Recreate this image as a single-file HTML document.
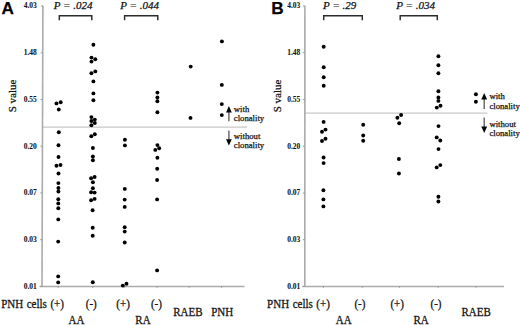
<!DOCTYPE html>
<html><head><meta charset="utf-8"><style>
html,body{margin:0;padding:0;background:#fff;}
body{width:520px;height:325px;overflow:hidden;}
svg{display:block;}
text{font-family:"Liberation Serif",serif;fill:#111;stroke:#111;stroke-width:0.25px;}
.tk{font-size:7.5px;font-weight:bold;text-anchor:end;stroke-width:0.05px;}
.sv{font-size:11px;text-anchor:middle;}
.pv{font-size:11px;font-style:italic;}
.lt{font-family:"Liberation Sans",sans-serif;font-weight:bold;font-size:17.2px;fill:#000;}
.cl{font-size:8.7px;}
.eq{fill:#666;stroke:#666;}
.bl{font-size:11px;word-spacing:0.8px;}
circle{fill:#000;}
</style></head><body>
<svg width="520" height="325" viewBox="0 0 520 325">
<line x1="42.9" y1="127.2" x2="247" y2="127.2" stroke="#c8c8c8" stroke-width="1.2"/>
<line x1="42.9" y1="5.7" x2="42.0" y2="286.5" stroke="#ababab" stroke-width="1.6"/>
<line x1="39.5" y1="286.5" x2="244.4" y2="286.5" stroke="#ababab" stroke-width="1.6"/>
<line x1="40.9" y1="6.00" x2="42.9" y2="6.00" stroke="#999" stroke-width="1"/>
<text x="36.8" y="8.40" class="tk">4.03</text>
<line x1="40.75" y1="52.73" x2="42.75" y2="52.73" stroke="#999" stroke-width="1"/>
<text x="36.8" y="55.13" class="tk">1.48</text>
<line x1="40.6" y1="99.47" x2="42.6" y2="99.47" stroke="#999" stroke-width="1"/>
<text x="36.8" y="101.87" class="tk">0.55</text>
<line x1="40.449999999999996" y1="146.20" x2="42.449999999999996" y2="146.20" stroke="#999" stroke-width="1"/>
<text x="36.8" y="148.60" class="tk">0.20</text>
<line x1="40.3" y1="192.93" x2="42.3" y2="192.93" stroke="#999" stroke-width="1"/>
<text x="36.8" y="195.33" class="tk">0.07</text>
<line x1="40.15" y1="239.67" x2="42.15" y2="239.67" stroke="#999" stroke-width="1"/>
<text x="36.8" y="242.07" class="tk">0.03</text>
<line x1="40.0" y1="286.40" x2="42.0" y2="286.40" stroke="#999" stroke-width="1"/>
<text x="36.8" y="288.80" class="tk">0.01</text>
<line x1="58.2" y1="286.09999999999997" x2="58.2" y2="287.7" stroke="#9a9a9a" stroke-width="1.1"/>
<line x1="92.8" y1="286.09999999999997" x2="92.8" y2="287.7" stroke="#9a9a9a" stroke-width="1.1"/>
<line x1="124.5" y1="286.09999999999997" x2="124.5" y2="287.7" stroke="#9a9a9a" stroke-width="1.1"/>
<line x1="157.1" y1="286.09999999999997" x2="157.1" y2="287.7" stroke="#9a9a9a" stroke-width="1.1"/>
<line x1="189.2" y1="286.09999999999997" x2="189.2" y2="287.7" stroke="#9a9a9a" stroke-width="1.1"/>
<line x1="221.5" y1="286.09999999999997" x2="221.5" y2="287.7" stroke="#9a9a9a" stroke-width="1.1"/>
<text transform="translate(16.2,96) rotate(-90)" class="sv">S value</text>
<path d="M59.3 20.3 V15.75 H91.8 V20.3" fill="none" stroke="#2c2c2c" stroke-width="1.45"/>
<path d="M124.6 20.3 V15.75 H157.8 V20.3" fill="none" stroke="#2c2c2c" stroke-width="1.45"/>
<text x="53.8" y="8.7" class="pv">P <tspan class="eq">=</tspan> .024</text>
<text x="120.3" y="8.7" class="pv">P <tspan class="eq">=</tspan> .044</text>
<text x="1.6" y="13.55" class="lt">A</text>
<line x1="228.9" y1="112.1" x2="228.9" y2="121.2" stroke="#505050" stroke-width="1.25"/>
<path d="M228.9 105.9 L231.8 112.6 L226.0 112.6 Z" fill="#000"/>
<line x1="228.9" y1="130.4" x2="228.9" y2="139.7" stroke="#505050" stroke-width="1.25"/>
<path d="M228.9 145.5 L231.8 139.2 L226.0 139.2 Z" fill="#000"/>
<text x="233.8" y="112" class="cl">with</text>
<text x="233.8" y="121.3" class="cl">clonality</text>
<text x="233.8" y="138.8" class="cl">without</text>
<text x="233.8" y="148.2" class="cl">clonality</text>
<text transform="translate(1.2,308.2) scale(1,1.08)" class="bl">PNH cells (+)</text>
<text transform="translate(85.8,308.2) scale(1,1.08)" class="bl">(-)</text>
<text transform="translate(116.3,308.2) scale(1,1.08)" class="bl">(+)</text>
<text transform="translate(150.9,308.2) scale(1,1.08)" class="bl">(-)</text>
<text transform="translate(68.6,323.7) scale(1,1.08)" class="bl">AA</text>
<text transform="translate(135.3,323.7) scale(1,1.08)" class="bl">RA</text>
<text transform="translate(173.2,316.1) scale(1,1.08)" class="bl">RAEB</text>
<text transform="translate(211.2,316.1) scale(1,1.08)" class="bl">PNH</text>
<line x1="304.9" y1="113.2" x2="487.3" y2="113.2" stroke="#c8c8c8" stroke-width="1.2"/>
<line x1="304.9" y1="5.7" x2="304.79999999999995" y2="286.5" stroke="#ababab" stroke-width="1.6"/>
<line x1="302.29999999999995" y1="286.5" x2="504" y2="286.5" stroke="#ababab" stroke-width="1.6"/>
<line x1="302.9" y1="6.00" x2="304.9" y2="6.00" stroke="#999" stroke-width="1"/>
<text x="300.3" y="8.40" class="tk">4.03</text>
<line x1="302.8833333333333" y1="52.73" x2="304.8833333333333" y2="52.73" stroke="#999" stroke-width="1"/>
<text x="300.3" y="55.13" class="tk">1.48</text>
<line x1="302.8666666666666" y1="99.47" x2="304.8666666666666" y2="99.47" stroke="#999" stroke-width="1"/>
<text x="300.3" y="101.87" class="tk">0.55</text>
<line x1="302.84999999999997" y1="146.20" x2="304.84999999999997" y2="146.20" stroke="#999" stroke-width="1"/>
<text x="300.3" y="148.60" class="tk">0.20</text>
<line x1="302.8333333333333" y1="192.93" x2="304.8333333333333" y2="192.93" stroke="#999" stroke-width="1"/>
<text x="300.3" y="195.33" class="tk">0.07</text>
<line x1="302.81666666666666" y1="239.67" x2="304.81666666666666" y2="239.67" stroke="#999" stroke-width="1"/>
<text x="300.3" y="242.07" class="tk">0.03</text>
<line x1="302.79999999999995" y1="286.40" x2="304.79999999999995" y2="286.40" stroke="#999" stroke-width="1"/>
<text x="300.3" y="288.80" class="tk">0.01</text>
<line x1="323.4" y1="286.09999999999997" x2="323.4" y2="287.7" stroke="#9a9a9a" stroke-width="1.1"/>
<line x1="362.3" y1="286.09999999999997" x2="362.3" y2="287.7" stroke="#9a9a9a" stroke-width="1.1"/>
<line x1="399.5" y1="286.09999999999997" x2="399.5" y2="287.7" stroke="#9a9a9a" stroke-width="1.1"/>
<line x1="438.2" y1="286.09999999999997" x2="438.2" y2="287.7" stroke="#9a9a9a" stroke-width="1.1"/>
<line x1="476" y1="286.09999999999997" x2="476" y2="287.7" stroke="#9a9a9a" stroke-width="1.1"/>
<text transform="translate(281.1,96) rotate(-90)" class="sv">S value</text>
<path d="M323.7 20.3 V15.75 H362.3 V20.3" fill="none" stroke="#2c2c2c" stroke-width="1.45"/>
<path d="M400.2 20.3 V15.75 H437.3 V20.3" fill="none" stroke="#2c2c2c" stroke-width="1.45"/>
<text x="323.1" y="8.7" class="pv">P <tspan class="eq">=</tspan> .29</text>
<text x="396.3" y="8.7" class="pv">P <tspan class="eq">=</tspan> .034</text>
<text x="271.2" y="13.55" class="lt">B</text>
<line x1="484.2" y1="98.9" x2="484.2" y2="108.9" stroke="#505050" stroke-width="1.25"/>
<path d="M484.2 92.9 L487.09999999999997 99.4 L481.3 99.4 Z" fill="#000"/>
<line x1="484.2" y1="117.5" x2="484.2" y2="127.1" stroke="#505050" stroke-width="1.25"/>
<path d="M484.2 133.0 L487.09999999999997 126.6 L481.3 126.6 Z" fill="#000"/>
<text x="489.4" y="99.1" class="cl">with</text>
<text x="489.4" y="108.9" class="cl">clonality</text>
<text x="489.4" y="126.6" class="cl">without</text>
<text x="489.4" y="135.8" class="cl">clonality</text>
<text transform="translate(267.1,308.1) scale(1,1.08)" class="bl">PNH cells (+)</text>
<text transform="translate(354.4,308.2) scale(1,1.08)" class="bl">(-)</text>
<text transform="translate(390.4,308.2) scale(1,1.08)" class="bl">(+)</text>
<text transform="translate(430.5,308.2) scale(1,1.08)" class="bl">(-)</text>
<text transform="translate(335.8,323.7) scale(1,1.08)" class="bl">AA</text>
<text transform="translate(413.4,323.7) scale(1,1.08)" class="bl">RA</text>
<text transform="translate(461.5,316.1) scale(1,1.08)" class="bl">RAEB</text>
<circle cx="56.5" cy="103.4" r="1.95"/>
<circle cx="60.7" cy="102.3" r="1.95"/>
<circle cx="58.8" cy="109.5" r="1.95"/>
<circle cx="58.8" cy="132.3" r="1.95"/>
<circle cx="58.5" cy="145.2" r="1.95"/>
<circle cx="58.5" cy="157" r="1.95"/>
<circle cx="56.5" cy="165.8" r="1.95"/>
<circle cx="60.5" cy="165" r="1.95"/>
<circle cx="58.5" cy="173.5" r="1.95"/>
<circle cx="58.4" cy="183.1" r="1.95"/>
<circle cx="58.4" cy="188" r="1.95"/>
<circle cx="58.4" cy="191.5" r="1.95"/>
<circle cx="58.3" cy="199.2" r="1.95"/>
<circle cx="58.3" cy="203.4" r="1.95"/>
<circle cx="58.3" cy="208.2" r="1.95"/>
<circle cx="58.3" cy="219.4" r="1.95"/>
<circle cx="58.2" cy="241.6" r="1.95"/>
<circle cx="58.2" cy="276.4" r="1.95"/>
<circle cx="58.2" cy="282.4" r="1.95"/>
<circle cx="93.4" cy="44.8" r="1.95"/>
<circle cx="91.5" cy="57.6" r="1.95"/>
<circle cx="95.3" cy="59.3" r="1.95"/>
<circle cx="91.5" cy="61.6" r="1.95"/>
<circle cx="95.3" cy="71.4" r="1.95"/>
<circle cx="91.4" cy="73.2" r="1.95"/>
<circle cx="93.4" cy="81.4" r="1.95"/>
<circle cx="93.4" cy="93.4" r="1.95"/>
<circle cx="93.4" cy="100.3" r="1.95"/>
<circle cx="91.4" cy="117.1" r="1.95"/>
<circle cx="94.8" cy="119.6" r="1.95"/>
<circle cx="91.4" cy="121" r="1.95"/>
<circle cx="94.8" cy="123" r="1.95"/>
<circle cx="91.4" cy="125.2" r="1.95"/>
<circle cx="94.8" cy="134.2" r="1.95"/>
<circle cx="91.3" cy="136.3" r="1.95"/>
<circle cx="92.9" cy="148" r="1.95"/>
<circle cx="92.9" cy="156.5" r="1.95"/>
<circle cx="92.9" cy="160.3" r="1.95"/>
<circle cx="94.6" cy="177" r="1.95"/>
<circle cx="91.1" cy="178.3" r="1.95"/>
<circle cx="92.9" cy="182.3" r="1.95"/>
<circle cx="92.9" cy="188.2" r="1.95"/>
<circle cx="91.1" cy="192.3" r="1.95"/>
<circle cx="94.6" cy="192.6" r="1.95"/>
<circle cx="94.6" cy="198.9" r="1.95"/>
<circle cx="91.1" cy="200.3" r="1.95"/>
<circle cx="92.6" cy="210.3" r="1.95"/>
<circle cx="92.7" cy="227.7" r="1.95"/>
<circle cx="92.7" cy="235.8" r="1.95"/>
<circle cx="92.8" cy="282.2" r="1.95"/>
<circle cx="124.9" cy="139.7" r="1.95"/>
<circle cx="124.9" cy="145.4" r="1.95"/>
<circle cx="124.8" cy="188.9" r="1.95"/>
<circle cx="124.7" cy="199.6" r="1.95"/>
<circle cx="124.7" cy="206.9" r="1.95"/>
<circle cx="124.7" cy="227.3" r="1.95"/>
<circle cx="124.7" cy="231.6" r="1.95"/>
<circle cx="124.7" cy="242.5" r="1.95"/>
<circle cx="122.8" cy="285.6" r="1.95"/>
<circle cx="126.5" cy="283.7" r="1.95"/>
<circle cx="157.4" cy="92.6" r="1.95"/>
<circle cx="157.4" cy="97.5" r="1.95"/>
<circle cx="157.4" cy="101.3" r="1.95"/>
<circle cx="157.4" cy="112.2" r="1.95"/>
<circle cx="157.4" cy="145.1" r="1.95"/>
<circle cx="159.2" cy="148.3" r="1.95"/>
<circle cx="155.3" cy="149.9" r="1.95"/>
<circle cx="157.4" cy="157.8" r="1.95"/>
<circle cx="157.2" cy="168.8" r="1.95"/>
<circle cx="157.1" cy="180" r="1.95"/>
<circle cx="157.1" cy="199.4" r="1.95"/>
<circle cx="157.1" cy="270.4" r="1.95"/>
<circle cx="190.7" cy="66.6" r="1.95"/>
<circle cx="190.5" cy="117.9" r="1.95"/>
<circle cx="221.9" cy="41.4" r="1.95"/>
<circle cx="221.8" cy="84.9" r="1.95"/>
<circle cx="221.8" cy="104.1" r="1.95"/>
<circle cx="221.8" cy="115.1" r="1.95"/>
<circle cx="323.7" cy="46.8" r="1.95"/>
<circle cx="323.7" cy="67.3" r="1.95"/>
<circle cx="323.7" cy="77.2" r="1.95"/>
<circle cx="323.7" cy="85.7" r="1.95"/>
<circle cx="323.6" cy="121.9" r="1.95"/>
<circle cx="325.5" cy="129.6" r="1.95"/>
<circle cx="322" cy="131.8" r="1.95"/>
<circle cx="325.5" cy="138.8" r="1.95"/>
<circle cx="322" cy="141" r="1.95"/>
<circle cx="323.6" cy="157.5" r="1.95"/>
<circle cx="323.6" cy="163.1" r="1.95"/>
<circle cx="323.4" cy="190.2" r="1.95"/>
<circle cx="323.4" cy="199.4" r="1.95"/>
<circle cx="323.4" cy="206.4" r="1.95"/>
<circle cx="363.2" cy="124.8" r="1.95"/>
<circle cx="363.2" cy="135.5" r="1.95"/>
<circle cx="363.2" cy="140.8" r="1.95"/>
<circle cx="401.1" cy="115" r="1.95"/>
<circle cx="397.4" cy="117.7" r="1.95"/>
<circle cx="399.2" cy="123.2" r="1.95"/>
<circle cx="398.9" cy="159" r="1.95"/>
<circle cx="398.9" cy="173.5" r="1.95"/>
<circle cx="438.4" cy="56.2" r="1.95"/>
<circle cx="438.4" cy="65.2" r="1.95"/>
<circle cx="438.4" cy="73.3" r="1.95"/>
<circle cx="438.4" cy="91.3" r="1.95"/>
<circle cx="438.4" cy="97.5" r="1.95"/>
<circle cx="438.4" cy="100.9" r="1.95"/>
<circle cx="440.5" cy="105.8" r="1.95"/>
<circle cx="436.8" cy="107.6" r="1.95"/>
<circle cx="438.5" cy="126.1" r="1.95"/>
<circle cx="436.7" cy="137.4" r="1.95"/>
<circle cx="440.3" cy="140.5" r="1.95"/>
<circle cx="438.5" cy="149.1" r="1.95"/>
<circle cx="440.3" cy="165.1" r="1.95"/>
<circle cx="436.7" cy="167.4" r="1.95"/>
<circle cx="438.4" cy="196.7" r="1.95"/>
<circle cx="438.4" cy="201.5" r="1.95"/>
<circle cx="475.9" cy="94.3" r="1.95"/>
<circle cx="475.9" cy="101.8" r="1.95"/>
</svg>
</body></html>
